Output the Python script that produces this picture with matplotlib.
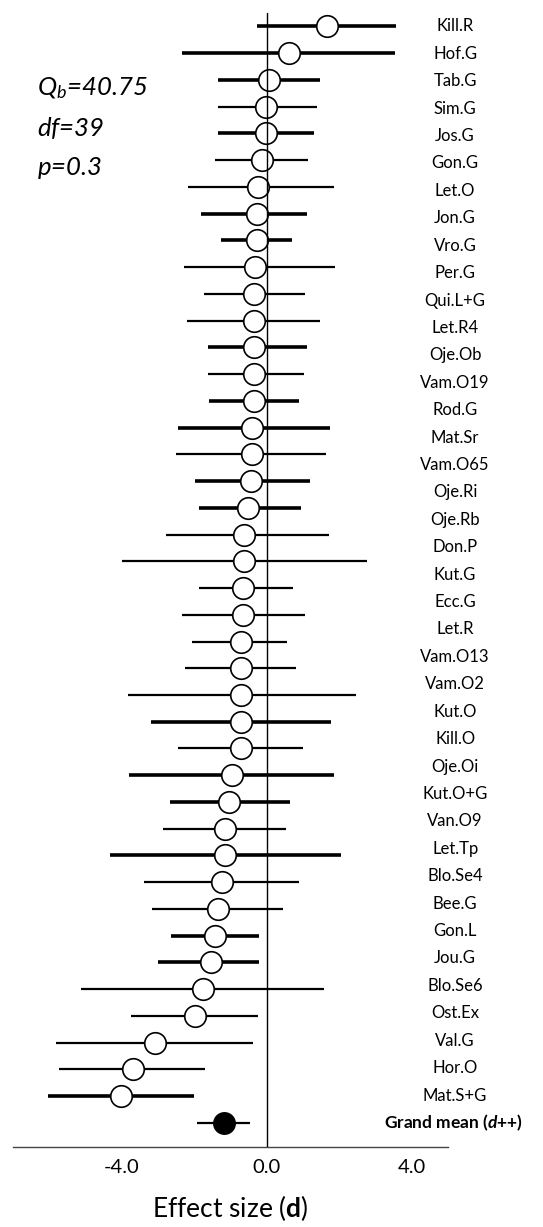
import numpy as np
import matplotlib
matplotlib.use("Agg")
import matplotlib.pyplot as plt

plt.rcParams['font.family'] = ['Lato', 'DejaVu Sans']
plt.rcParams['mathtext.fontset'] = 'custom'
plt.rcParams['mathtext.rm'] = 'Lato'
plt.rcParams['mathtext.it'] = 'Lato:italic'
plt.rcParams['mathtext.bf'] = 'Lato:bold'
plt.rcParams['mathtext.bfit'] = 'Lato:italic:bold'

# study labels as printed in the right column (top to bottom)
labels = ["Kill.R", "Hof.G", "Tab.G", "Sim.G", "Jos.G", "Gon.G", "Let.O", "Jon.G",
          "Vro.G", "Per.G", "Qui.L+G", "Let.R4", "Oje.Ob", "Vam.O19", "Rod.G",
          "Mat.Sr", "Vam.O65", "Oje.Ri", "Oje.Rb", "Don.P", "Kut.G", "Ecc.G",
          "Let.R", "Vam.O13", "Vam.O2", "Kut.O", "Kill.O", "Oje.Oi", "Kut.O+G",
          "Van.O9", "Let.Tp", "Blo.Se4", "Bee.G", "Gon.L", "Jou.G", "Blo.Se6",
          "Ost.Ex", "Val.G", "Hor.O", "Mat.S+G"]

# effect sizes and confidence limits of every drawn row (top to bottom)
effect = [1.67, 0.62, 0.07, -0.03, -0.03, -0.14, -0.25, -0.28, -0.28, -0.31,
          -0.34, -0.36, -0.34, -0.36, -0.36, -0.40, -0.40, -0.42, -0.52, -0.62,
          -0.62, -0.64, -0.65, -0.70, -0.70, -0.70, -0.70, -0.70, -0.96, -1.03,
          -1.14, -1.15, -1.24, -1.35, -1.43, -1.55, -1.75, -1.98, -3.08, -3.70,
          -4.01]
lower = [-0.26, -2.35, -1.33, -1.33, -1.33, -1.42, -2.17, -1.80, -1.27, -2.29,
         -1.73, -2.20, -1.63, -1.63, -1.60, -2.45, -2.49, -1.98, -1.87, -2.79,
         -3.98, -1.86, -2.35, -2.06, -2.26, -3.82, -3.20, -2.45, -3.79, -2.66,
         -2.86, -4.32, -3.38, -3.16, -2.63, -3.00, -5.11, -3.73, -5.82, -5.72,
         -6.04]
upper = [3.56, 3.54, 1.48, 1.39, 1.30, 1.13, 1.85, 1.10, 0.71, 1.89,
         1.06, 1.48, 1.10, 1.04, 0.88, 1.76, 1.64, 1.19, 0.94, 1.71,
         2.78, 0.73, 1.06, 0.57, 0.81, 2.47, 1.78, 1.01, 1.85, 0.65,
         0.53, 2.04, 0.88, 0.46, -0.22, -0.20, 1.59, -0.25, -0.38, -1.69,
         -2.00]
thick = [1, 1, 1, 0, 1, 0, 0, 1, 1, 0,
         0, 0, 1, 0, 1, 1, 0, 1, 1, 0,
         0, 0, 0, 0, 0, 0, 1, 0, 1, 1,
         0, 1, 0, 0, 1, 1, 0, 0, 0, 0,
         1]

grand_mean = -1.19
grand_ci = (-1.92, -0.47)

n = len(effect)
rows = np.arange(n)
grand_row = n

fig = plt.figure(figsize=(5.43, 12.27), dpi=100)
ax = fig.add_axes([0.0239, 0.0652, 0.801, 0.9242])

lws = [2.6 if t else 1.6 for t in thick]
ax.hlines(rows, lower, upper, colors='black', linewidths=lws, zorder=2)
ax.plot(effect, rows, 'o', ms=15.5, mfc='white', mec='black', mew=1.2, zorder=3)

ax.hlines(grand_row, grand_ci[0], grand_ci[1], colors='black', linewidth=1.6, zorder=2)
ax.plot(grand_mean, grand_row, 'o', ms=15.5, mfc='black', mec='black', zorder=3)

ax.axvline(0, color='black', linewidth=1.0, zorder=4)

ax.set_xlim(-7, 5)
ax.set_ylim(grand_row + 0.9, -0.5)

for s in ['left', 'right', 'top']:
    ax.spines[s].set_visible(False)
ax.spines['bottom'].set_color('#444444')
ax.spines['bottom'].set_linewidth(1.0)
ax.set_yticks([])
ax.set_xticks([-4, 0, 4])
ax.set_xticklabels(['-4.0', '0.0', '4.0'])
ax.tick_params(axis='x', length=0, pad=9, labelsize=14.5)
ax.set_xlabel(r'Effect size ($\mathbf{d}$)', fontsize=19, labelpad=12)

# label column is spaced evenly between the first row and the grand mean row
label_pos = np.linspace(0, grand_row, len(labels) + 1)
for name, yp in zip(labels, label_pos[:-1]):
    ax.text(5.2, yp, name, ha='center', va='center', fontsize=12, clip_on=False)
ax.text(5.15, label_pos[-1], r'Grand mean ($\mathbfit{d}$++)', ha='center', va='center',
        fontsize=12.5, fontweight='bold', clip_on=False)

stats = [r'$Q_b$=40.75', r'$df$=39', r'$p$=0.3']
for i, s in enumerate(stats):
    fig.text(0.068, 1 - (88 + 40 * i) / 1227, s, fontsize=18.5, style='italic',
             ha='left', va='center')

fig.savefig('out.png', dpi=100)
